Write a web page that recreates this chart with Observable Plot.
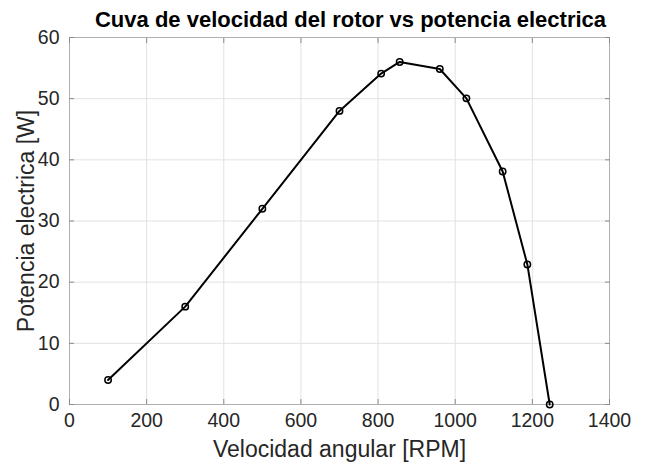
<!DOCTYPE html>
<html>
<head>
<meta charset="utf-8">
<script src="https://cdn.jsdelivr.net/npm/d3@7"></script>
<script src="https://cdn.jsdelivr.net/npm/@observablehq/plot@0.6"></script>
<style>
  html, body { margin: 0; padding: 0; background: #fff; }
</style>
</head>
<body>
<div id="chart"></div>
<script>
const rpm = [100, 300, 500, 700, 808, 856, 960, 1029, 1123, 1187, 1245];
const power = [4, 16, 32, 48, 54.1, 56.0, 54.85, 50.05, 38.1, 22.9, 0];
const xTicks = [0, 200, 400, 600, 800, 1000, 1200, 1400];
const yTicks = [0, 10, 20, 30, 40, 50, 60];
const title = "Cuva de velocidad del rotor vs potencia electrica";
const xLabel = "Velocidad angular [RPM]";
const yLabel = "Potencia electrica [W]";

const data = rpm.map((r, i) => ({rpm: r, power: power[i]}));
const font = "'Liberation Sans', Arial, Helvetica, sans-serif";
const txt = "#262626";

const chart = Plot.plot({
  width: 648,
  height: 464,
  marginLeft: 69,
  marginRight: 39,
  marginTop: 37,
  marginBottom: 60,
  style: {fontFamily: font, fontSize: "19.5px", color: txt, background: "#fff"},
  x: {domain: [0, 1400]},
  y: {domain: [0, 60]},
  marks: [
    Plot.gridX(xTicks, {stroke: "#e2e2e2", strokeOpacity: 1, strokeWidth: 1}),
    Plot.gridY(yTicks, {stroke: "#e2e2e2", strokeOpacity: 1, strokeWidth: 1}),
    Plot.frame({stroke: "#b0b0b0", strokeWidth: 1}),
    // inward ticks on all four sides
    Plot.axisX(xTicks, {anchor: "bottom", tickSize: -5, text: null, label: null, stroke: "#8a8a8a"}),
    Plot.axisX(xTicks, {anchor: "top", tickSize: -5, text: null, label: null, stroke: "#8a8a8a"}),
    Plot.axisY(yTicks, {anchor: "left", tickSize: -5, text: null, label: null, stroke: "#8a8a8a"}),
    Plot.axisY(yTicks, {anchor: "right", tickSize: -5, text: null, label: null, stroke: "#8a8a8a"}),
    // labels
    Plot.axisX(xTicks, {anchor: "bottom", tickSize: 0, tickPadding: 9, fill: txt, tickFormat: d3.format("d"),
      label: xLabel, labelAnchor: "center", labelArrow: "none", labelOffset: 52}),
    Plot.axisY(yTicks, {anchor: "left", tickSize: 0, tickPadding: 10, fill: txt, tickFormat: d3.format("d"),
      label: yLabel, labelAnchor: "center", labelArrow: "none", labelOffset: 52}),
    Plot.line(data, {x: "rpm", y: "power", stroke: "#000", strokeWidth: 2}),
    Plot.dot(data, {x: "rpm", y: "power", r: 3.2, stroke: "#000", strokeWidth: 1.5, fill: "none"}),
    Plot.text([title], {frameAnchor: "top", dy: -26, dx: 11, fontWeight: "bold", fontSize: 22, fill: "#000"})
  ]
});

chart.querySelectorAll("[aria-label='x-axis tick label'], [aria-label='y-axis tick label']").forEach(n => {
  n.setAttribute("font-size", "19.5");
  n.style.fontSize = "19.5px";
  n.querySelectorAll("text").forEach(t => { t.style.fontSize = "19.5px"; });
});
chart.querySelectorAll("[aria-label='x-axis label'], [aria-label='y-axis label']").forEach(n => {
  n.setAttribute("font-size", "23");
  n.style.fontSize = "23px";
  n.querySelectorAll("text").forEach(t => { t.style.fontSize = "23px"; });
});
chart.querySelectorAll("[aria-label='text'] text").forEach(t => { t.style.fontSize = "22px"; });
document.getElementById("chart").appendChild(chart);
</script>
</body>
</html>
